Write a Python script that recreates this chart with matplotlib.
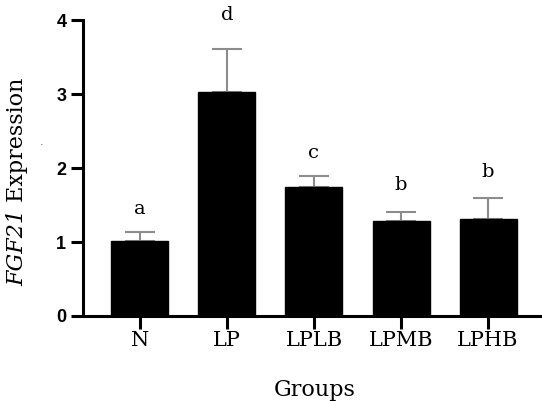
import matplotlib
matplotlib.use("Agg")
import matplotlib.pyplot as plt

# data
groups = ["N", "LP", "LPLB", "LPMB", "LPHB"]
means = [1.01, 3.03, 1.74, 1.28, 1.31]
sd = [0.13, 0.58, 0.15, 0.13, 0.28]
letters = ["a", "d", "c", "b", "b"]
letter_y = [1.45, 4.07, 2.2, 1.77, 1.95]

fig = plt.figure(figsize=(5.42, 4.01), dpi=100)
ax = fig.add_axes([0.153, 0.212, 0.847, 0.738])

x = list(range(len(groups)))
ax.bar(x, means, width=0.655, color="black", edgecolor="black", zorder=3)
ax.errorbar(x, means, yerr=[[0] * len(sd), sd], fmt="none", ecolor="#8c8c8c",
            elinewidth=1.5, capsize=11, capthick=1.5, zorder=2)

for xi, lab, ly in zip(x, letters, letter_y):
    ax.text(xi, ly, lab, ha="center", va="center", family="DejaVu Serif",
            fontsize=14, clip_on=False)

ax.set_xlim(-0.655, 4.62)
ax.set_ylim(0, 4)
ax.set_yticks([0, 1, 2, 3, 4])
ax.set_xticks(x)
ax.set_xticklabels(groups, family="DejaVu Serif", fontsize=15)
for t in ax.get_yticklabels():
    t.set_family("Liberation Sans")
    t.set_fontweight("bold")
    t.set_fontsize(13)

for s in ["top", "right"]:
    ax.spines[s].set_visible(False)
for s in ["left", "bottom"]:
    ax.spines[s].set_linewidth(2.2)
ax.tick_params(axis="both", width=2.2, length=9)
ax.tick_params(axis="x", pad=2)
ax.tick_params(axis="y", pad=3)

# axis titles placed by hand
fig.text(315 / 542, 1 - 390 / 401, "Groups", ha="center", va="center",
         family="DejaVu Serif", fontsize=16)

# y title: italic gene name + plain word, stacked bottom to top
renderer = fig.canvas.get_renderer()
t1 = fig.text(17 / 542, 1 - 286 / 401, "FGF21", ha="center", va="bottom",
              rotation=90, family="DejaVu Serif", style="italic", fontsize=16)
h1 = t1.get_window_extent(renderer).height / fig.bbox.height
fig.text(17 / 542, 1 - 286 / 401 + h1, " Expression", ha="center", va="bottom",
         rotation=90, family="DejaVu Serif", fontsize=16)
fig.text(40 / 542, 1 - 145 / 401, ".", fontsize=8, color="#555555")

plt.savefig("out.png", dpi=100)
